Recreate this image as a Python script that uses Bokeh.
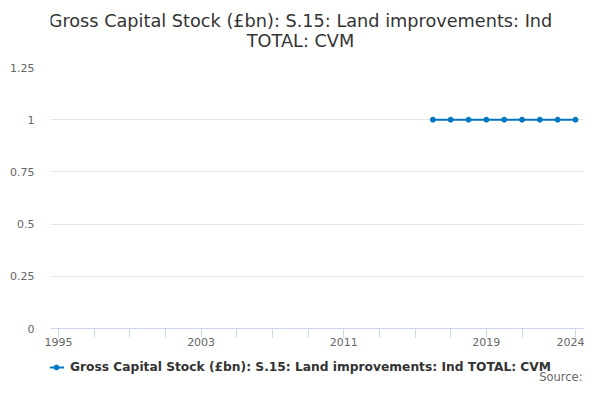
from bokeh.plotting import figure
from bokeh.models import Range1d, FixedTicker, Label, Legend, LegendItem
from bokeh.layouts import column
from bokeh.embed import file_html
from bokeh.resources import INLINE

title_line1 = "Gross Capital Stock (£bn): S.15: Land improvements: Ind"
title_line2 = "TOTAL: CVM"
series_name = "Gross Capital Stock (£bn): S.15: Land improvements: Ind TOTAL: CVM"
source_text = "Source:"

years = [2016, 2017, 2018, 2019, 2020, 2021, 2022, 2023, 2024]
values = [1, 1, 1, 1, 1, 1, 1, 1, 1]

x_ticks = [1995, 1997, 1999, 2001, 2003, 2005, 2007, 2009, 2011, 2013, 2015, 2017, 2019, 2021, 2024]
x_labelled = [1995, 2003, 2011, 2019, 2024]
y_ticks = [0, 0.25, 0.5, 0.75, 1, 1.25]
y_labels = ["0", "0.25", "0.5", "0.75", "1", "1.25"]

FONT = "DejaVu Sans"
COLOR = "#0077c0"
W = 584
LEFT, RIGHT = 50, 1


def blank(height, y0, y1):
    # frame spans canvas x LEFT..W-RIGHT; data coordinates equal page pixels
    f = figure(width=W, height=height, output_backend="svg", toolbar_location=None,
               x_range=Range1d(LEFT, W - RIGHT), y_range=Range1d(y0, y1),
               x_axis_location=None, y_axis_location=None,
               min_border_left=LEFT, min_border_right=RIGHT, min_border_top=0, min_border_bottom=0)
    f.outline_line_color = None
    f.xgrid.grid_line_color = None
    f.ygrid.grid_line_color = None
    f.background_fill_color = "white"
    f.border_fill_color = "white"
    return f


# ---- header with the two-line title
header = blank(56, 56, 0)
for txt, yy in [(title_line1, 20), (title_line2, 40)]:
    header.add_layout(Label(x=300, y=yy, text=txt, text_align="center", text_baseline="middle",
                            text_font=FONT, text_font_size="17.7px", text_color="#333333"))

# ---- main chart
p = figure(width=W, height=294, output_backend="svg", toolbar_location=None,
           x_range=Range1d(1994.55, 2024.45), y_range=Range1d(0, 1.25),
           min_border_left=LEFT, min_border_right=RIGHT, min_border_top=11, min_border_bottom=22)
p.title = None
p.outline_line_color = None
p.background_fill_color = "white"
p.border_fill_color = "white"

p.xaxis.ticker = FixedTicker(ticks=x_ticks)
p.xaxis.major_label_overrides = {t: (str(t) if t in x_labelled else "") for t in x_ticks}
p.xaxis.axis_line_color = "#ccd6eb"
p.xaxis.major_tick_line_color = "#ccd6eb"
p.xaxis.major_tick_out = 9
p.xaxis.major_tick_in = 0
p.xaxis.minor_tick_line_color = None
p.xaxis.major_label_text_font = FONT
p.xaxis.major_label_text_font_size = "11px"
p.xaxis.major_label_text_color = "#666666"
p.xaxis.major_label_standoff = 0

p.yaxis.ticker = FixedTicker(ticks=y_ticks)
p.yaxis.major_label_overrides = {t: l for t, l in zip(y_ticks, y_labels)}
p.yaxis.axis_line_color = None
p.yaxis.major_tick_line_color = None
p.yaxis.major_tick_out = 0
p.yaxis.major_tick_in = 0
p.yaxis.minor_tick_line_color = None
p.yaxis.major_label_text_font = FONT
p.yaxis.major_label_text_font_size = "11px"
p.yaxis.major_label_text_color = "#666666"
p.yaxis.major_label_standoff = 16

p.xgrid.grid_line_color = None
p.ygrid.grid_line_color = "#e6e6e6"

p.line(years, values, line_color=COLOR, line_width=2)
p.scatter(years, values, size=5, fill_color=COLOR, line_color=COLOR)

# ---- footer with legend and source
footer = blank(34, 384, 350)
# same series drawn here only for the legend swatch (falls outside this panel's range)
leg_line = footer.line(years, values, line_color=COLOR, line_width=2)
leg_pt = footer.scatter(years, values, size=5, fill_color=COLOR, line_color=COLOR)
legend = Legend(items=[LegendItem(label=series_name, renderers=[leg_line, leg_pt])],
                location=(-2, 10), orientation="horizontal",
                label_text_font=FONT, label_text_font_size="12.25px", label_text_font_style="bold",
                label_text_color="#333333", border_line_color=None, background_fill_alpha=0,
                glyph_width=16, glyph_height=12, padding=0, margin=0, spacing=0,
                label_standoff=6, label_height=12)
footer.add_layout(legend, "center")
footer.add_layout(Label(x=582, y=376, text=source_text, text_align="right", text_baseline="middle",
                        text_font=FONT, text_font_size="11.5px", text_color="#666666"))

layout = column(header, p, footer, spacing=0)
open("out.html", "w").write(file_html(layout, INLINE))
